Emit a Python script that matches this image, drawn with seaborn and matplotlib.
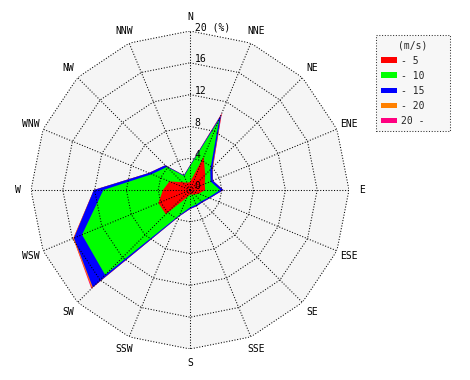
import numpy as np
import matplotlib
matplotlib.use("Agg")
import matplotlib.pyplot as plt
from matplotlib.patches import Patch
import seaborn as sns

sns.set_theme(style="white")
plt.rcParams['font.family'] = ['DejaVu Sans Mono', 'DejaVu Sans']

directions = ['N', 'NNE', 'NE', 'ENE', 'E', 'ESE', 'SE', 'SSE',
              'S', 'SSW', 'SW', 'WSW', 'W', 'WNW', 'NW', 'NNW']
speed_labels = ['- 5', '- 10', '- 15', '- 20', '20 -']
speed_colors = ['#ff0000', '#00ff00', '#0000ff', '#ff8000', '#ff0080']

# frequency (%) per direction for each wind speed class
red = [1.0, 4.5, 2.7, 2.0, 1.9, 1.2, 0.8, 0.6, 0.6, 1.0, 4.3, 4.3, 3.4, 2.8, 1.4, 1.0]
green = [2.0, 5.1, 0.9, 0.8, 1.9, 1.3, 1.2, 1.4, 1.6, 2.4, 10.8, 10.4, 7.5, 2.4, 2.7, 0.9]
blue = [0.1, 0.6, 0.4, 0.3, 0.4, 0.2, 0.2, 0.2, 0.2, 0.2, 2.2, 1.1, 1.2, 0.4, 0.3, 0.1]
orange = [0.0, 0.15, 0.1, 0.0, 0.0, 0.0, 0.0, 0.0, 0.0, 0.0, 0.15, 0.1, 0.0, 0.0, 0.0, 0.0]
pink = [0.0, 0.15, 0.0, 0.0, 0.0, 0.0, 0.0, 0.0, 0.0, 0.0, 0.1, 0.0, 0.0, 0.0, 0.0, 0.0]
ring_ticks = [4, 8, 12, 16, 20]

theta = np.deg2rad(np.arange(len(directions)) * 22.5)
tc = np.append(theta, theta[0])

fig = plt.figure(figsize=(4.7, 3.8), dpi=100)
ax = fig.add_axes([31 / 470, 31 / 380, 318 / 470, 318 / 380], projection='polar')
ax.set_theta_zero_location('N')
ax.set_theta_direction(-1)
ax.axis('off')

# gray 16-gon background
ax.fill(tc, [20] * len(tc), color='#f5f5f5', lw=0, zorder=0)

# stacked (cumulative) polygons, outermost first
cum = np.cumsum([red, green, blue, orange, pink], axis=0)
for i in range(len(speed_colors) - 1, -1, -1):
    r = np.append(cum[i], cum[i][0])
    ax.fill(tc, r, color=speed_colors[i], lw=0, zorder=2 + (4 - i))

# dotted polygon grid
for v in ring_ticks:
    ax.plot(tc, [v] * len(tc), color='black', lw=0.75, ls=':', zorder=10)
for t in theta:
    ax.plot([t, t], [0, 20], color='black', lw=0.75, ls=':', zorder=10)

for t, d in zip(theta, directions):
    ax.text(t, 21.7, d, ha='center', va='center', fontsize=7, color='black')

for v in [0] + ring_ticks:
    lab = '20 (%)' if v == 20 else str(v)
    ax.annotate(lab, xy=(0, v), xytext=(3.5, 0.5), textcoords='offset points',
                ha='left', va='baseline', fontsize=7, color='black', zorder=12)

ax.set_autoscale_on(False)
ax.set_ylim(0, 20)

handles = [Patch(facecolor=c, edgecolor='none') for c in speed_colors]
leg = fig.legend(handles, speed_labels, title='(m/s)', loc='upper left',
                 bbox_to_anchor=(376 / 470, 1 - 131 / 380, 74 / 470, 96 / 380),
                 mode='expand', fontsize=7, title_fontsize=7, frameon=True,
                 fancybox=False, borderaxespad=0, handlelength=1.65,
                 handleheight=0.5, handletextpad=0.4, labelspacing=0.53,
                 borderpad=0.55)
frame = leg.get_frame()
frame.set_facecolor('#f5f5f5')
frame.set_edgecolor('black')
frame.set_linestyle(':')
frame.set_linewidth(0.75)

fig.savefig('out.png', dpi=100)
